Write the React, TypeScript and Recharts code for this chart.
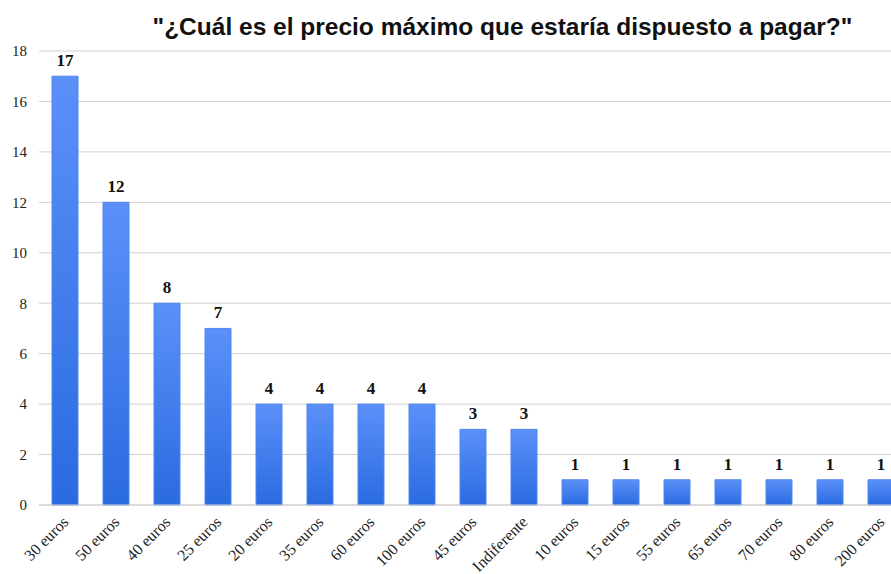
import React from "react";
import { BarChart, Bar, XAxis, YAxis, CartesianGrid, LabelList } from "recharts";

const categories = [
  "30 euros", "50 euros", "40 euros", "25 euros", "20 euros", "35 euros",
  "60 euros", "100 euros", "45 euros", "Indiferente", "10 euros", "15 euros",
  "55 euros", "65 euros", "70 euros", "80 euros", "200 euros",
];
const counts = [17, 12, 8, 7, 4, 4, 4, 4, 3, 3, 1, 1, 1, 1, 1, 1, 1];
const yTicks = [0, 2, 4, 6, 8, 10, 12, 14, 16, 18];
const title = "\"¿Cuál es el precio máximo que estaría dispuesto a pagar?\"";

const data = categories.map((name, i) => ({ name, value: counts[i] }));

const XTick = (props: any) => {
  const { x, y, payload } = props;
  return (
    <g transform={`translate(${x + 5},${y + 18})`}>
      <text
        x={0}
        y={0}
        textAnchor="end"
        transform="rotate(-45)"
        fontFamily="'Liberation Serif', 'Times New Roman', serif"
        fontSize={16}
        fill="#222"
      >
        {payload.value}
      </text>
    </g>
  );
};

export default function App() {
  return (
    <div
      style={{
        position: "fixed",
        left: 0,
        top: 0,
        width: 891,
        height: 574,
        overflow: "hidden",
        background: "#fff",
      }}
    >
      <div
        style={{
          position: "absolute",
          left: 0,
          right: 0,
          top: 13,
          textAlign: "center",
          paddingLeft: 114,
          fontFamily: "'Liberation Sans', Arial, sans-serif",
          fontWeight: "bold",
          fontSize: 24.5,
          color: "#111",
          whiteSpace: "nowrap",
          zIndex: 2,
        }}
      >
        {title}
      </div>
      <BarChart
        width={906}
        height={574}
        data={data}
        margin={{ top: 51, right: 0, bottom: 0, left: 0 }}
        barSize={26}
      >
        <defs>
          <linearGradient id="barGrad" x1="0" y1="0" x2="0" y2="1">
            <stop offset="0%" stopColor="#5b90f9" />
            <stop offset="100%" stopColor="#2a6be0" />
          </linearGradient>
        </defs>
        <CartesianGrid vertical={false} stroke="#cfcfcf" strokeWidth={1} />
        <XAxis
          dataKey="name"
          interval={0}
          height={69}
          tickLine={false}
          tickSize={0}
          tickMargin={0}
          axisLine={{ stroke: "#cfcfcf" }}
          tick={<XTick />}
        />
        <YAxis
          width={39}
          domain={[0, 18]}
          ticks={yTicks}
          interval={0}
          axisLine={false}
          tickLine={false}
          tickSize={0}
          tickMargin={12}
          tick={{
            fontFamily: "'Liberation Serif', 'Times New Roman', serif",
            fontSize: 15,
            fill: "#222",
          }}
        />
        <Bar
          dataKey="value"
          fill="url(#barGrad)"
          stroke="#4f86ee"
          strokeWidth={1}
          isAnimationActive={false}
        >
          <LabelList
            dataKey="value"
            position="top"
            offset={10}
            style={{
              fontFamily: "'Liberation Serif', 'Times New Roman', serif",
              fontWeight: "bold",
              fontSize: 17,
              fill: "#111",
            }}
          />
        </Bar>
      </BarChart>
    </div>
  );
}
